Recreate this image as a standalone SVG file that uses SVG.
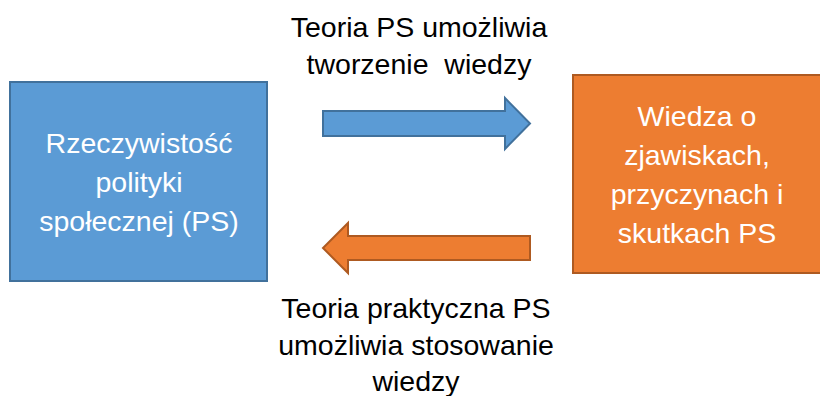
<svg xmlns="http://www.w3.org/2000/svg" width="820" height="396" viewBox="0 0 820 396">
<style>
.lbl{font-family:"Liberation Sans",Arial,sans-serif;font-size:28.5px;fill:#000;text-anchor:middle}
.in{font-family:"Liberation Sans",Arial,sans-serif;font-size:28.5px;fill:#fff;text-anchor:middle}
.blue{fill:#5B9BD5;stroke:#41719C;stroke-width:2}
.orange{fill:#ED7D31;stroke:#AE5A21;stroke-width:2}
</style>
<rect width="820" height="396" fill="#fff"/>
<g id="node-ps">
<rect class="blue" x="10" y="82" width="257" height="199"/>
<text class="in" x="139" y="153">Rzeczywistość</text>
<text class="in" x="139" y="192">polityki</text>
<text class="in" x="139" y="231">społecznej (PS)</text>
</g>
<g id="node-wiedza">
<rect class="orange" x="573" y="75" width="252" height="198"/>
<text class="in" x="697" y="126">Wiedza o</text>
<text class="in" x="697" y="165">zjawiskach,</text>
<text class="in" x="697" y="204">przyczynach i</text>
<text class="in" x="697" y="243">skutkach PS</text>
</g>
<g id="connectors">
<g id="arrow-right">
<polygon class="blue" points="323,111 505,111 505,98 530,123.5 505,149 505,136 323,136"/>
<text class="lbl" x="419" y="37">Teoria PS umożliwia</text>
<text class="lbl" x="419" y="74" xml:space="preserve">tworzenie  wiedzy</text>
</g>
<g id="arrow-left">
<polygon class="orange" points="530,236 348,236 348,223 323,248 348,273 348,260 530,260"/>
<text class="lbl" x="416" y="318">Teoria praktyczna PS</text>
<text class="lbl" x="416" y="355">umożliwia stosowanie</text>
<text class="lbl" x="416" y="391">wiedzy</text>
</g>
</g>
</svg>
